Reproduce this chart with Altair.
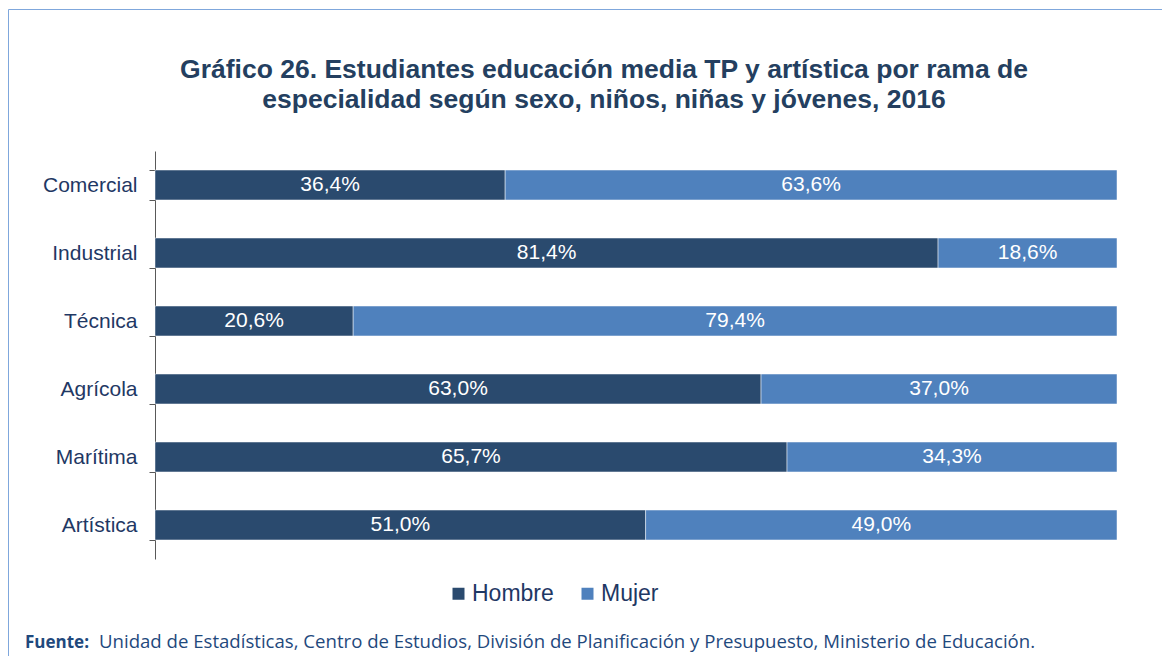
import altair as alt
import pandas as pd

categories = ["Comercial", "Industrial", "Técnica", "Agrícola", "Marítima", "Artística"]
hombre = [36.4, 81.4, 20.6, 63.0, 65.7, 51.0]
mujer = [63.6, 18.6, 79.4, 37.0, 34.3, 49.0]
series = ["Hombre", "Mujer"]
colors = ["#2A4A6E", "#4F81BD"]
title_lines = ["Gráfico 26. Estudiantes educación media TP y artística por rama de",
               "especialidad según sexo, niños, niñas y jóvenes, 2016"]
source_bold = "Fuente:"
source_text = "Unidad de Estadísticas, Centro de Estudios, División de Planificación y Presupuesto, Ministerio de Educación."

rows = []
for i, c in enumerate(categories):
    for j, (s, v) in enumerate(zip(series, [hombre[i], mujer[i]])):
        rows.append({"cat": c, "sexo": s, "pct": v, "order": j,
                     "label": f"{v:.1f}%".replace(".", ",")})
df = pd.DataFrame(rows)

W, H = 962, 408
FONT = "Liberation Sans"

yenc = alt.Y("cat:N", sort=categories,
             scale=alt.Scale(paddingInner=0.56, paddingOuter=0.28),
             axis=alt.Axis(title=None, tickBand="extent", tickSize=6,
                           domainColor="#595959", tickColor="#595959",
                           labelFontSize=21, labelColor="#1F3864", labelFont=FONT,
                           labelPadding=12, grid=False))

bars = alt.Chart(df).mark_bar(stroke="#ffffff", strokeWidth=0.8, strokeOpacity=0.6).encode(
    x=alt.X("pct:Q", stack="zero", scale=alt.Scale(domain=[0, 100], nice=False), axis=None),
    y=yenc,
    color=alt.Color("sexo:N", sort=series,
                    scale=alt.Scale(domain=series, range=colors),
                    legend=alt.Legend(orient="none", legendX=292, legendY=431,
                                      direction="horizontal", title=None,
                                      symbolType="square", symbolSize=144,
                                      symbolStrokeWidth=0, labelFontSize=23,
                                      labelColor="#1F3864", labelFont=FONT,
                                      columnPadding=22, labelOffset=2, padding=0)),
    order=alt.Order("order:Q"),
)

texts = alt.Chart(df).transform_stack(
    stack="pct", groupby=["cat"], as_=["x0", "x1"], sort=[alt.SortField("order")]
).transform_calculate(mid="(datum.x0 + datum.x1) / 2").mark_text(
    color="white", fontSize=21, font=FONT
).encode(
    x=alt.X("mid:Q", scale=alt.Scale(domain=[0, 100], nice=False), axis=None),
    y=alt.Y("cat:N", sort=categories),
    text="label:N",
)

tdf = pd.DataFrame({"t": title_lines, "yy": [-73, -43]})
title = alt.Chart(tdf).mark_text(fontSize=26.5, fontWeight="bold", font=FONT,
                                 color="#243F60", align="center", baseline="alphabetic").encode(
    x=alt.value(449), y=alt.Y("yy:Q", scale=None), text="t:N")

sdf = pd.DataFrame({"t": [source_bold, source_text], "xx": [-130, -56]})
src_b = alt.Chart(sdf.iloc[[0]]).mark_text(fontSize=17, fontWeight="bold", font="Open Sans",
                                           color="#1F497D", align="left", baseline="alphabetic").encode(
    x=alt.X("xx:Q", scale=None), y=alt.value(497), text="t:N")
src_n = alt.Chart(sdf.iloc[[1]]).mark_text(fontSize=18.6, font="Open Sans",
                                           color="#1F497D", align="left", baseline="alphabetic").encode(
    x=alt.X("xx:Q", scale=None), y=alt.value(497), text="t:N")

frame = alt.Chart(pd.DataFrame({"k": [0]})).mark_rect(
    fill="transparent", stroke="#7FA7DC", strokeWidth=1).encode(
    x=alt.value(-146.5), x2=alt.value(W + 60), y=alt.value(-141.5), y2=alt.value(H + 120))

chart = alt.layer(frame, bars, texts, title, src_b, src_n).properties(
    width=W, height=H,
    background="white",
    autosize=alt.AutoSizeParams(type="none"),
    padding={"left": 147, "top": 143, "right": 45, "bottom": 97},
).configure_view(strokeWidth=0, stroke="transparent")

chart.save("out.html", embed_options={"renderer": "svg", "actions": False})
